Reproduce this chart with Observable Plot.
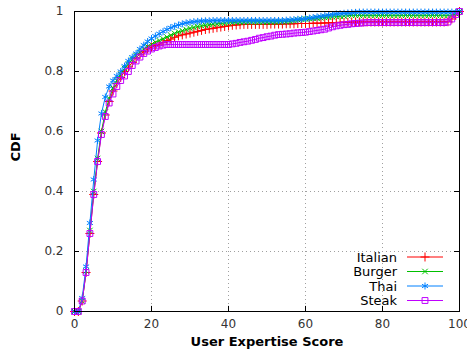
<!DOCTYPE html>
<html><head><meta charset="utf-8">
<script src="https://cdn.jsdelivr.net/npm/d3@7"></script>
<script src="https://cdn.jsdelivr.net/npm/@observablehq/plot@0.6"></script>
<style>
html,body{margin:0;padding:0;background:#fff;}
#chart{position:relative;width:467px;height:355px;}
svg{font-family:"DejaVu Sans",sans-serif;}
</style></head>
<body><div id="chart"></div>
<script>
const scores = d3.range(0, 101);
const seriesNames = ["Italian", "Burger", "Thai", "Steak"];
const seriesColors = ["#ff0000", "#00c000", "#0080ff", "#c000ff"];
const seriesSymbols = ["plus", "times", "asterisk", "square"];
const xTicks = [0, 20, 40, 60, 80, 100];
const yTicks = [0, 0.2, 0.4, 0.6, 0.8, 1];
const yTickLabels = ["0", "0.2", "0.4", "0.6", "0.8", "1"];

const italian = [
0,0,0.035,0.13,0.26,0.39,0.50,0.595,0.655,0.70,
0.735,0.76,0.78,0.80,0.815,0.83,0.845,0.858,0.866,0.875,
0.882,0.887,0.891,0.897,0.903,0.908,0.914,0.919,0.922,0.925,
0.928,0.931,0.934,0.937,0.94,0.942,0.944,0.946,0.948,0.95,
0.952,0.954,0.955,0.956,0.957,0.957,0.957,0.957,0.957,0.957,
0.957,0.958,0.958,0.958,0.958,0.959,0.959,0.959,0.96,0.96,
0.96,0.96,0.961,0.961,0.961,0.962,0.962,0.963,0.963,0.964,
0.964,0.964,0.965,0.965,0.965,0.965,0.965,0.965,0.965,0.965,
0.965,0.965,0.965,0.965,0.965,0.965,0.965,0.965,0.965,0.965,
0.965,0.965,0.965,0.965,0.965,0.965,0.965,0.966,0.975,0.988,1];

const burger = [
0,0,0.035,0.135,0.27,0.40,0.51,0.60,0.665,0.71,
0.745,0.77,0.79,0.81,0.825,0.84,0.853,0.864,0.874,0.883,
0.89,0.897,0.903,0.909,0.915,0.921,0.927,0.932,0.936,0.94,
0.944,0.947,0.95,0.952,0.954,0.956,0.958,0.959,0.96,0.961,
0.962,0.963,0.964,0.965,0.965,0.965,0.965,0.965,0.965,0.965,
0.965,0.965,0.965,0.965,0.966,0.966,0.967,0.97,0.972,0.974,
0.975,0.976,0.977,0.978,0.979,0.98,0.981,0.982,0.983,0.984,
0.985,0.986,0.987,0.987,0.987,0.987,0.987,0.987,0.987,0.987,
0.987,0.987,0.987,0.987,0.987,0.987,0.987,0.987,0.987,0.987,
0.987,0.987,0.987,0.987,0.987,0.987,0.987,0.987,0.987,0.993,1];

const thai = [
0,0,0.045,0.15,0.295,0.44,0.57,0.66,0.715,0.75,
0.77,0.785,0.80,0.818,0.835,0.848,0.86,0.875,0.888,0.90,
0.91,0.918,0.926,0.933,0.94,0.946,0.951,0.955,0.959,0.962,
0.964,0.966,0.967,0.968,0.969,0.969,0.97,0.97,0.97,0.97,
0.97,0.97,0.97,0.97,0.97,0.97,0.97,0.97,0.97,0.97,
0.97,0.97,0.97,0.97,0.97,0.971,0.972,0.973,0.974,0.975,
0.976,0.978,0.98,0.982,0.984,0.986,0.988,0.99,0.992,0.993,
0.994,0.995,0.996,0.997,0.998,0.998,0.998,0.998,0.998,0.998,
0.998,0.998,0.998,0.998,0.998,0.998,0.998,0.998,0.998,0.998,
0.998,0.998,0.998,0.998,0.998,0.998,0.998,0.998,0.998,0.998,1];

const steak = [
0,0,0.035,0.13,0.26,0.39,0.50,0.59,0.65,0.695,
0.725,0.75,0.77,0.785,0.80,0.82,0.835,0.848,0.86,0.868,
0.875,0.88,0.885,0.888,0.89,0.89,0.89,0.89,0.89,0.89,
0.89,0.89,0.89,0.89,0.89,0.89,0.89,0.89,0.89,0.89,
0.89,0.892,0.894,0.897,0.899,0.901,0.904,0.907,0.911,0.913,
0.916,0.918,0.921,0.923,0.924,0.925,0.926,0.928,0.929,0.93,
0.931,0.933,0.935,0.937,0.939,0.941,0.945,0.949,0.952,0.954,
0.956,0.957,0.959,0.96,0.961,0.962,0.963,0.963,0.963,0.963,
0.963,0.963,0.963,0.963,0.963,0.963,0.963,0.963,0.963,0.963,
0.963,0.963,0.963,0.963,0.963,0.963,0.963,0.965,0.975,0.99,1];

const seriesValues = [italian, burger, thai, steak];
const symbolR = [3, 2.6, 3.3, 3.3];

const marks = [
  Plot.gridX(xTicks.slice(1, -1), {stroke: "#a0a0a0", strokeOpacity: 1, strokeDasharray: "1,3"}),
  Plot.gridY(yTicks.slice(1, -1), {stroke: "#a0a0a0", strokeOpacity: 1, strokeDasharray: "1,3"}),
  Plot.ruleX(xTicks, {y1: 0, y2: 0.017, stroke: "#000"}),
  Plot.ruleX(xTicks, {y1: 0.983, y2: 1, stroke: "#000"}),
  Plot.ruleY(yTicks, {x1: 0, x2: 1.3, stroke: "#000"}),
  Plot.ruleY(yTicks, {x1: 98.7, x2: 100, stroke: "#000"}),
  Plot.axisX(xTicks, {tickSize: 0, tickPadding: 8, fontSize: 12, fill: "#333", label: null}),
  Plot.axisY(yTicks, {tickSize: 0, tickPadding: 11, fontSize: 12, fill: "#333", label: null,
    tickFormat: (d, i) => yTickLabels[i]}),
  Plot.text(["User Expertise Score"], {frameAnchor: "bottom", dy: 34, fontSize: 13, fontWeight: "bold", fill: "#000"}),
  Plot.text(["CDF"], {frameAnchor: "left", dx: -59, rotate: -90, fontSize: 13, fontWeight: "bold", fill: "#000"})
];

seriesNames.forEach((name, k) => {
  const rows = scores.map((s, i) => ({score: s, cdf: seriesValues[k][i]}));
  marks.push(Plot.line(rows, {x: "score", y: "cdf", stroke: seriesColors[k], strokeWidth: 1}));
  marks.push(Plot.dot(rows, {x: "score", y: "cdf", symbol: seriesSymbols[k], r: symbolR[k],
    stroke: seriesColors[k], fill: "none", strokeWidth: 1}));
});

marks.push(Plot.frame({stroke: "#000", strokeWidth: 1}));

const chart = Plot.plot({
  width: 467, height: 355,
  marginLeft: 74, marginRight: 8, marginTop: 11, marginBottom: 44,
  style: {fontFamily: "DejaVu Sans, sans-serif", background: "#fff", overflow: "visible"},
  x: {domain: [0, 100]},
  y: {domain: [0, 1]},
  marks
});
document.getElementById("chart").appendChild(chart);

// legend (inside plot, lower right)
const svg = d3.select(chart);
const lg = svg.append("g").attr("font-family", "DejaVu Sans, sans-serif").attr("font-size", 13);
seriesNames.forEach((name, k) => {
  const y = 257 + k * 14.5;
  lg.append("text").attr("x", 397).attr("y", y).attr("dy", "0.35em")
    .attr("text-anchor", "end").attr("fill", "#000").text(name);
  lg.append("line").attr("x1", 407).attr("x2", 443).attr("y1", y).attr("y2", y)
    .attr("stroke", seriesColors[k]).attr("stroke-width", 1);
  const symMap = {plus: d3.symbolPlus, times: d3.symbolTimes, asterisk: d3.symbolAsterisk, square: d3.symbolSquare};
  lg.append("path").attr("transform", `translate(425,${y})`)
    .attr("d", d3.symbol(symMap[seriesSymbols[k]], Math.PI * symbolR[k] * symbolR[k])())
    .attr("fill", "none").attr("stroke", seriesColors[k]);
});
</script></body></html>
